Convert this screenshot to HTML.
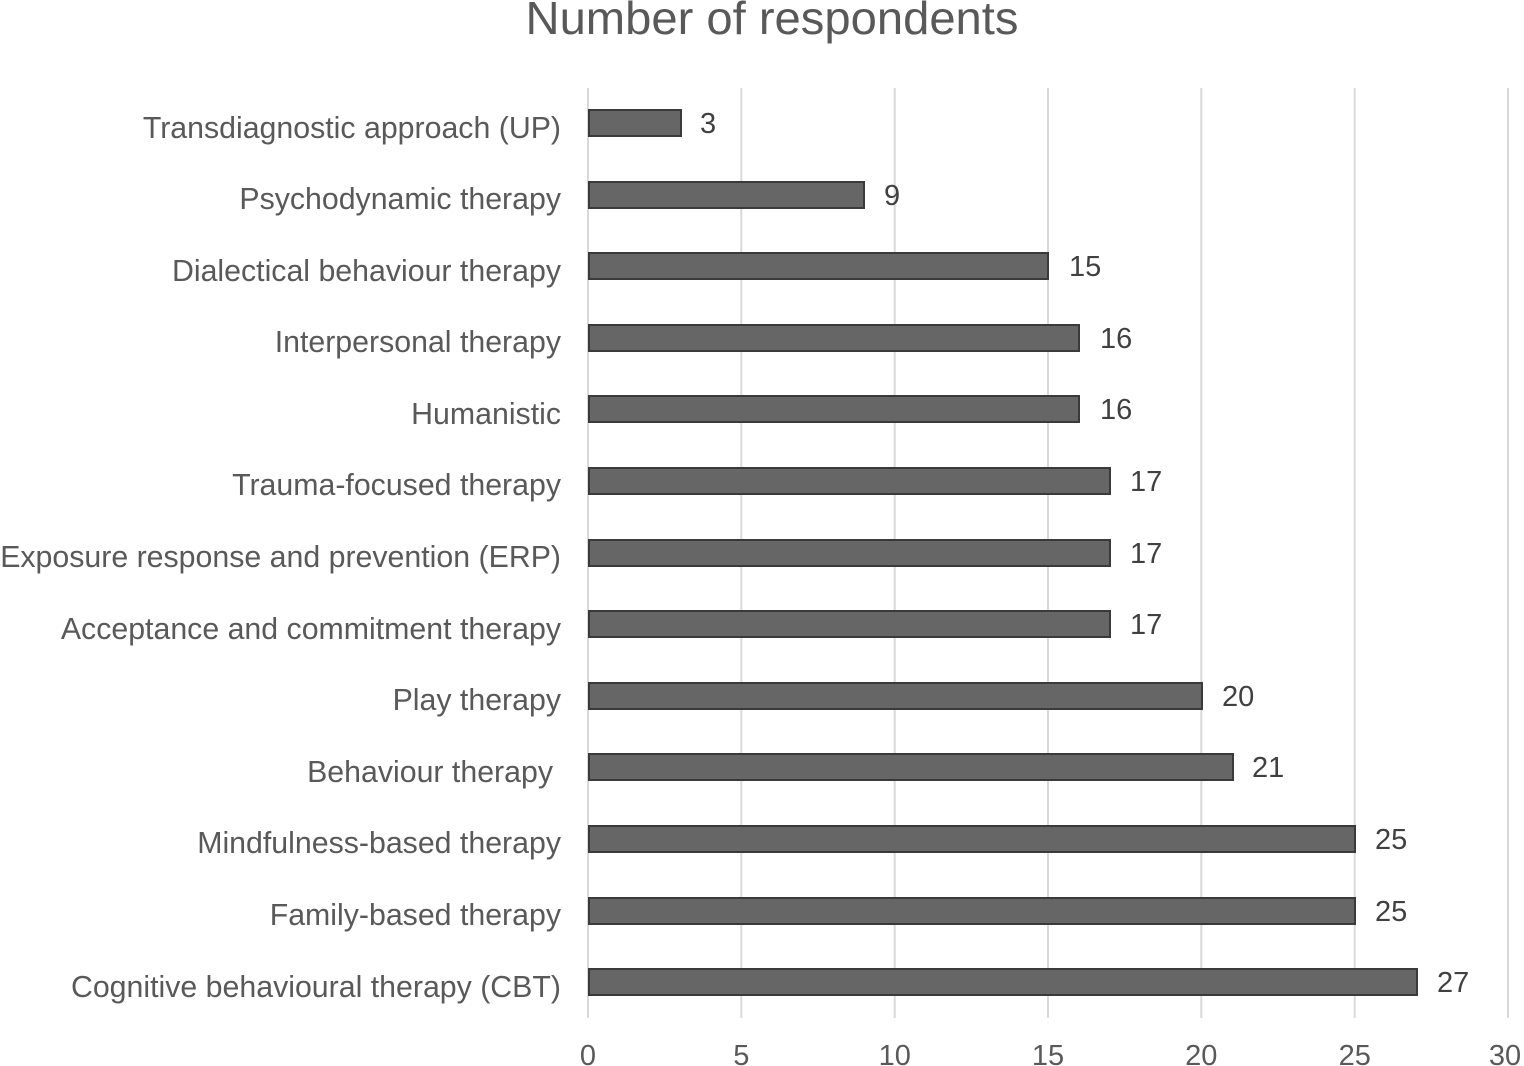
<!DOCTYPE html>
<html><head><meta charset="utf-8"><style>
body{margin:0;background:#fff;}
svg{display:block;font-family:"Liberation Sans",Arial,sans-serif;}
</style></head><body>
<svg width="1524" height="1066" viewBox="0 0 1524 1066" xmlns="http://www.w3.org/2000/svg">
<rect width="1524" height="1066" fill="#fff"/>
<text x="772" y="34" text-anchor="middle" font-size="46" fill="#595959" textLength="493" lengthAdjust="spacingAndGlyphs">Number of respondents</text>
<g stroke="#d9d9d9" stroke-width="2">
<line x1="588" y1="88" x2="588" y2="1018"/>
<line x1="741.3" y1="88" x2="741.3" y2="1018"/>
<line x1="894.7" y1="88" x2="894.7" y2="1018"/>
<line x1="1048" y1="88" x2="1048" y2="1018"/>
<line x1="1201.3" y1="88" x2="1201.3" y2="1018"/>
<line x1="1354.7" y1="88" x2="1354.7" y2="1018"/>
<line x1="1508" y1="88" x2="1508" y2="1018"/>
</g>
<g font-size="29" fill="#595959" text-anchor="middle">
<text x="588" y="1065">0</text><text x="741.3" y="1065">5</text><text x="894.7" y="1065">10</text><text x="1048" y="1065">15</text><text x="1201.3" y="1065">20</text><text x="1354.7" y="1065">25</text><text x="1505" y="1065">30</text>
</g>
<g fill="#666" stroke="#3a3a3a" stroke-width="2">
<rect x="589" y="110" width="92" height="26"/>
<rect x="589" y="182" width="275" height="26"/>
<rect x="589" y="253" width="459" height="26"/>
<rect x="589" y="325" width="490" height="26"/>
<rect x="589" y="396" width="490" height="26"/>
<rect x="589" y="468" width="521" height="26"/>
<rect x="589" y="540" width="521" height="26"/>
<rect x="589" y="611" width="521" height="26"/>
<rect x="589" y="683" width="613" height="26"/>
<rect x="589" y="754" width="644" height="26"/>
<rect x="589" y="826" width="766" height="26"/>
<rect x="589" y="898" width="766" height="26"/>
<rect x="589" y="969" width="828" height="26"/>
</g>
<g font-size="29" fill="#404040">
<text x="700" y="133">3</text>
<text x="884" y="205">9</text>
<text x="1069" y="276">15</text>
<text x="1100" y="348">16</text>
<text x="1100" y="419">16</text>
<text x="1130" y="491">17</text>
<text x="1130" y="563">17</text>
<text x="1130" y="634">17</text>
<text x="1222" y="706">20</text>
<text x="1252" y="777">21</text>
<text x="1375" y="849">25</text>
<text x="1375" y="921">25</text>
<text x="1437" y="992">27</text>
</g>
<g font-size="30.3" fill="#595959" text-anchor="end">
<text x="561" y="138">Transdiagnostic approach (UP)</text>
<text x="561" y="209">Psychodynamic therapy</text>
<text x="561" y="281">Dialectical behaviour therapy</text>
<text x="561" y="352">Interpersonal therapy</text>
<text x="561" y="424">Humanistic</text>
<text x="561" y="495">Trauma-focused therapy</text>
<text x="561" y="567">Exposure response and prevention (ERP)</text>
<text x="561" y="639">Acceptance and commitment therapy</text>
<text x="561" y="710">Play therapy</text>
<text x="553" y="782">Behaviour therapy</text>
<text x="561" y="853">Mindfulness-based therapy</text>
<text x="561" y="925">Family-based therapy</text>
<text x="561" y="997">Cognitive behavioural therapy (CBT)</text>
</g>
</svg>
</body></html>
